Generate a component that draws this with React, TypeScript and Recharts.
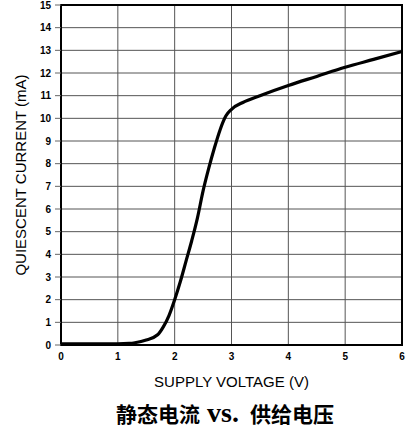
import { LineChart, Line, XAxis, YAxis, CartesianGrid, ReferenceArea } from "recharts"

// supply voltage (V) and quiescent current (mA)
const voltage = [0, 0.5, 1.0, 1.2, 1.3, 1.5, 1.7, 1.8, 1.9, 2.0, 2.1, 2.2, 2.3, 2.4, 2.5, 2.6, 2.7, 2.8, 2.9, 3.0, 3.2, 3.5, 4.0, 4.5, 5.0, 5.5, 6.0]
const current = [0.05, 0.05, 0.05, 0.07, 0.1, 0.22, 0.45, 0.8, 1.3, 2.0, 2.8, 3.7, 4.6, 5.6, 6.8, 7.8, 8.7, 9.5, 10.1, 10.4, 10.7, 11.0, 11.45, 11.85, 12.25, 12.6, 12.95]

const xTicks = [0, 1, 2, 3, 4, 5, 6]
const yTicks = [0, 1, 2, 3, 4, 5, 6, 7, 8, 9, 10, 11, 12, 13, 14, 15]

const data = voltage.map((v, i) => ({ v, i: current[i] }))

const tickStyle = { fontSize: 10, fontWeight: "bold", fill: "#000", fontFamily: "Liberation Sans, Arial, sans-serif" }
const labelStyle = { fontSize: 15, fill: "#000", fontFamily: "Liberation Sans, Arial, sans-serif", textAnchor: "middle" as const }

export default function App() {
    return (
        <div style={{ position: "absolute", left: 0, top: 0, width: 411, height: 429, background: "#fff" }}>
            <LineChart width={411} height={429} data={data} margin={{ top: 5, right: 9, bottom: 39, left: 0 }}>
                <CartesianGrid stroke="#555" strokeWidth={1} />
                <XAxis
                    dataKey="v"
                    type="number"
                    domain={[0, 6]}
                    ticks={xTicks}
                    height={45}
                    tickLine={false}
                    tickSize={5}
                    tickMargin={3}
                    axisLine={{ stroke: "#000", strokeWidth: 2 }}
                    tick={tickStyle}
                    label={{ value: "SUPPLY VOLTAGE (V)", position: "insideBottom", offset: 3, style: labelStyle }}
                />
                <YAxis
                    type="number"
                    domain={[0, 15]}
                    ticks={yTicks}
                    width={61}
                    interval={0}
                    tickSize={6}
                    tickMargin={4}
                    tickLine={{ stroke: "#666" }}
                    axisLine={{ stroke: "#000", strokeWidth: 2 }}
                    tick={tickStyle}
                    label={{ value: "QUIESCENT CURRENT (mA)", angle: -90, position: "insideLeft", offset: 21, style: labelStyle }}
                />
                <ReferenceArea x1={0} x2={6} y1={0} y2={15} fill="none" stroke="#000" strokeWidth={2} ifOverflow="visible" />
                <Line
                    type="monotone"
                    dataKey="i"
                    stroke="#000"
                    strokeWidth={3.2}
                    dot={false}
                    isAnimationActive={false}
                />
            </LineChart>
            <div
                style={{
                    position: "absolute",
                    left: 116,
                    top: 402,
                    whiteSpace: "nowrap",
                    lineHeight: "21px",
                    fontWeight: "bold",
                    color: "#000",
                }}
            >
                <span style={{ fontFamily: "Noto Sans CJK SC", fontSize: 21 }}>静态电流</span>
                <span style={{ fontFamily: "Liberation Serif, serif", fontSize: 28, margin: "0 11px 0 7px" }}>vs.</span>
                <span style={{ fontFamily: "Noto Sans CJK SC", fontSize: 21 }}>供给电压</span>
            </div>
        </div>
    )
}
